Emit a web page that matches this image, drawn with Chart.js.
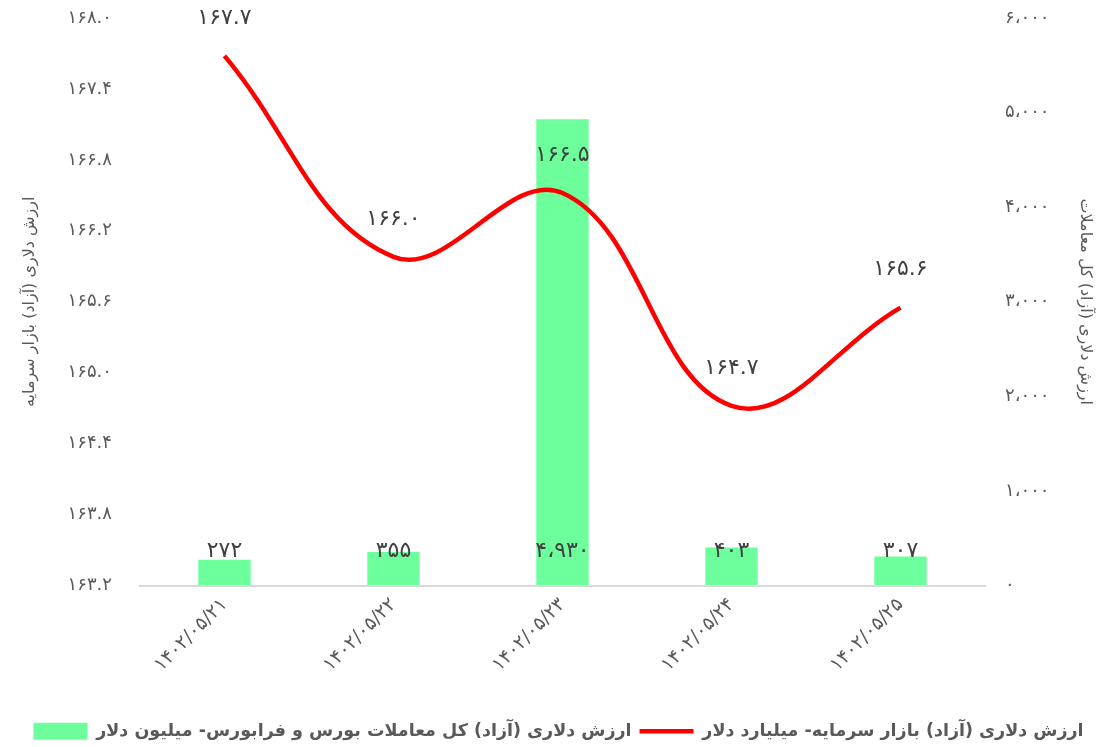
<!DOCTYPE html>
<html>
<head>
<meta charset="utf-8">
<script src="https://cdn.jsdelivr.net/npm/chart.js@4"></script>
<style>
  body { margin: 0; background: #fff; }
  canvas { display: block; }
</style>
</head>
<body>
<canvas id="chart" width="1117" height="747"></canvas>
<script>
// داده‌ها
const dates = ['1402/05/21', '1402/05/22', '1402/05/23', '1402/05/24', '1402/05/25'];
const tradeValues = [272, 355, 4930, 403, 307];            // میلیون دلار
const marketValues = [167.68, 165.98, 166.52, 164.72, 165.55]; // میلیارد دلار
const marketLabels = ['167.7', '166.0', '166.5', '164.7', '165.6'];

const barLabel = 'ارزش دلاری (آزاد) کل معاملات بورس و فرابورس- میلیون دلار';
const lineLabel = 'ارزش دلاری (آزاد) بازار سرمایه- میلیارد دلار';
const leftTitle = 'ارزش دلاری (آزاد) بازار سرمایه';
const rightTitle = 'ارزش دلاری (آزاد) کل معاملات';

const FONT = '"DejaVu Sans", sans-serif';

// تبدیل ارقام به فارسی
const toFa = s => String(s).replace(/\d/g, d => '۰۱۲۳۴۵۶۷۸۹'[d]).replace(/,/g, '،');

// برچسب داده‌ها
const dataLabels = {
  id: 'dataLabels',
  afterDatasetsDraw(chart) {
    const ctx = chart.ctx;
    ctx.save();
    ctx.font = '22px ' + FONT;
    ctx.fillStyle = '#404040';
    ctx.textAlign = 'center';
    ctx.textBaseline = 'middle';
    const base = chart.scales.y1.getPixelForValue(0);
    chart.getDatasetMeta(0).data.forEach((bar, i) => {
      ctx.fillText(toFa(tradeValues[i].toLocaleString('en-US')), bar.x, base - 34);
    });
    chart.getDatasetMeta(1).data.forEach((pt, i) => {
      ctx.fillText(toFa(marketLabels[i]), pt.x, pt.y - 38);
    });
    ctx.restore();
  }
};

// خطوط تیک نامرئی برای فاصله برچسب‌ها از محور
const hiddenGrid = len => ({
  display: true, drawOnChartArea: false, drawTicks: true,
  tickLength: len, color: 'rgba(0,0,0,0)'
});

new Chart(document.getElementById('chart'), {
  data: {
    labels: dates,
    datasets: [
      {
        type: 'bar',
        label: barLabel,
        data: tradeValues,
        yAxisID: 'y1',
        backgroundColor: '#6dff9c',
        barPercentage: 0.62,
        categoryPercentage: 0.5,
        pointStyle: 'rect',
        order: 2,
      },
      {
        type: 'line',
        label: lineLabel,
        data: marketValues,
        yAxisID: 'y',
        borderColor: '#ff0000',
        backgroundColor: '#ff0000',
        borderWidth: 4.5,
        tension: 0.4,
        pointRadius: 0,
        pointStyle: 'line',
        order: 1,
      }
    ]
  },
  options: {
    responsive: false,
    animation: false,
    layout: { padding: { top: 18, left: 0, right: 0, bottom: -3 } },
    scales: {
      x: {
        grid: { display: false, drawTicks: false },
        border: { display: true, color: '#d9d9d9', width: 2 },
        ticks: {
          minRotation: 45, maxRotation: 45, padding: 8,
          color: '#595959', font: { family: FONT, size: 19 },
          callback: (v, i) => toFa(dates[i])
        },
        afterFit: s => { s.height = 129; }
      },
      y: {
        position: 'left',
        min: 163.2, max: 168.0,
        grid: hiddenGrid(28),
        border: { display: false },
        ticks: {
          stepSize: 0.6, padding: 0,
          color: '#595959', font: { family: FONT, size: 18 },
          callback: v => toFa(v.toFixed(1))
        },
        title: {
          display: true, text: leftTitle, color: '#595959',
          font: { family: FONT, size: 16 }, padding: { top: 20, bottom: 0 }
        },
        afterFit: s => { s.width = 140; }
      },
      y1: {
        position: 'right',
        min: 0, max: 6000,
        grid: hiddenGrid(20),
        border: { display: false },
        ticks: {
          stepSize: 1000, padding: 0,
          color: '#595959', font: { family: FONT, size: 18 },
          callback: v => toFa(v.toLocaleString('en-US'))
        },
        title: {
          display: true, text: rightTitle, color: '#595959',
          font: { family: FONT, size: 16 }, padding: { top: 22, bottom: 0 }
        },
        afterFit: s => { s.width = 132; }
      }
    },
    plugins: {
      legend: {
        position: 'bottom',
        reverse: true,
        labels: {
          usePointStyle: true,
          pointStyleWidth: 54,
          boxHeight: 17,
          padding: 8,
          color: '#595959',
          font: { family: FONT, size: 17.5, weight: 'bold' }
        }
      },
      tooltip: { enabled: false }
    }
  },
  plugins: [dataLabels]
});
</script>
</body>
</html>
